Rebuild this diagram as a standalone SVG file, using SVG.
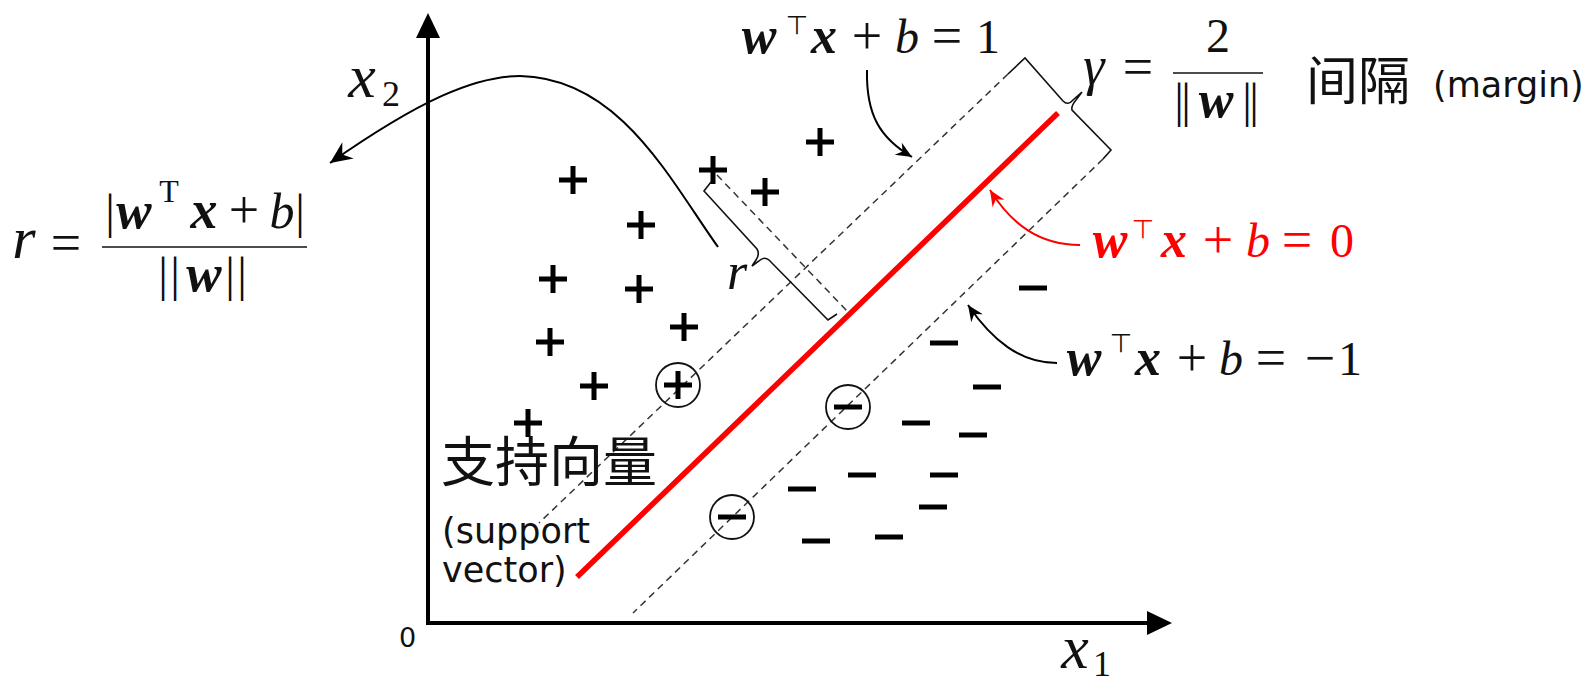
<svg xmlns="http://www.w3.org/2000/svg" width="1589" height="682" viewBox="0 0 1589 682">
<style>
.m{font-family:"Liberation Serif","DejaVu Serif",serif;fill:#111}
.mi{font-style:italic}
.mb{font-style:italic;font-weight:bold}
.top{font-family:"DejaVu Sans",sans-serif;font-style:normal;font-weight:normal}
.sans{font-family:"DejaVu Sans","Noto Sans CJK SC",sans-serif;fill:#111}
.cjk{font-family:"Noto Sans CJK SC","DejaVu Sans",sans-serif;fill:#111}
.dash{fill:none;stroke:#333;stroke-width:1.5;stroke-dasharray:7 5}
.br{fill:none;stroke:#111;stroke-width:1.6;stroke-linejoin:miter}
.ax{stroke:#000;stroke-width:4}
.pt{stroke:#000;stroke-width:5;fill:none}
.sv{fill:none;stroke:#111;stroke-width:1.8}
.red{fill:#f00}
</style>
<defs>
<marker id="ah" viewBox="-17 -8 18 16" markerWidth="18" markerHeight="16" refX="0" refY="0" orient="auto" markerUnits="userSpaceOnUse"><path d="M0,0 L-16,-7 L-11,0 L-16,7 Z" fill="#000"/></marker>
<marker id="ahr" viewBox="-17 -8 18 16" markerWidth="18" markerHeight="16" refX="0" refY="0" orient="auto" markerUnits="userSpaceOnUse"><path d="M0,0 L-16,-7 L-11,0 L-16,7 Z" fill="#f00"/></marker>
<marker id="ahb" viewBox="-23 -11 24 22" markerWidth="24" markerHeight="22" refX="0" refY="0" orient="auto" markerUnits="userSpaceOnUse"><path d="M0,0 L-22,-10 L-15,0 L-22,10 Z" fill="#000"/></marker>
<path id="plus" d="M-14,0H14M0,-14V14"/>
<path id="minus" d="M-14,0H14"/>
</defs>

<g id="axes">
<line class="ax" x1="428" y1="625" x2="428" y2="36"/>
<polygon points="428,13 416,38 440,38" fill="#000"/>
<line class="ax" x1="426" y1="623" x2="1150" y2="623"/>
<polygon points="1172,623 1147,611 1147,635" fill="#000"/>
<text class="sans" x="399" y="647" font-size="27">0</text>
<text class="m" x="362" y="97" text-anchor="middle" font-size="62"><tspan class="mi">x</tspan><tspan x="391" y="106" font-size="36">2</tspan></text>
<text class="m" x="1075" y="668" text-anchor="middle" font-size="62"><tspan class="mi">x</tspan><tspan x="1102" y="676" font-size="36">1</tspan></text>
</g>

<g id="lines">
<line class="dash" x1="1008" y1="74" x2="539" y2="523"/>
<line class="dash" x1="1103" y1="159" x2="633" y2="613"/>
<line class="dash" x1="717" y1="175" x2="848" y2="312"/>
<line x1="1058" y1="113" x2="577" y2="577" stroke="#f00" stroke-width="5.5"/>
</g>

<g id="braces">
<path class="br" d="M1008,74 L1025,58 L1063,101 Q1068,106 1073,100 L1082,92 L1076,100 Q1071,106 1072,110 L1111,150 L1103,159"/>
<path class="br" d="M711,182 L704,191 L757,249 Q760,254 756,260 L752,266 L759,261 Q764,256 769,260 L828,320 L837,314"/>
</g>

<g id="positive">
<use href="#plus" class="pt" x="573" y="180"/>
<use href="#plus" class="pt" x="713" y="170"/>
<use href="#plus" class="pt" x="820" y="142"/>
<use href="#plus" class="pt" x="765" y="192"/>
<use href="#plus" class="pt" x="641" y="225"/>
<use href="#plus" class="pt" x="553" y="279"/>
<use href="#plus" class="pt" x="639" y="289"/>
<use href="#plus" class="pt" x="684" y="327"/>
<use href="#plus" class="pt" x="550" y="342"/>
<use href="#plus" class="pt" x="594" y="386"/>
<use href="#plus" class="pt" x="528" y="423"/>
</g>
<g id="negative">
<use href="#minus" class="pt" x="1033" y="288"/>
<use href="#minus" class="pt" x="944" y="343"/>
<use href="#minus" class="pt" x="987" y="387"/>
<use href="#minus" class="pt" x="916" y="423"/>
<use href="#minus" class="pt" x="973" y="435"/>
<use href="#minus" class="pt" x="862" y="475"/>
<use href="#minus" class="pt" x="944" y="475"/>
<use href="#minus" class="pt" x="802" y="489"/>
<use href="#minus" class="pt" x="933" y="507"/>
<use href="#minus" class="pt" x="816" y="541"/>
<use href="#minus" class="pt" x="889" y="537"/>
</g>
<g id="support-vectors">
<circle class="sv" cx="678" cy="385" r="22"/>
<use href="#plus" class="pt" x="678" y="385"/>
<circle class="sv" cx="848" cy="407" r="22"/>
<use href="#minus" class="pt" x="848" y="407"/>
<circle class="sv" cx="732" cy="517" r="22"/>
<use href="#minus" class="pt" x="732" y="517"/>
</g>

<g id="connectors">
<path d="M718,247 C670,180 620,78 520,76 C475,76 420,100 330,163" fill="none" stroke="#000" stroke-width="2" marker-end="url(#ahb)"/>
<path d="M867,70 C866,115 880,138 912,157" fill="none" stroke="#000" stroke-width="2" marker-end="url(#ah)"/>
<path d="M1080,245 C1040,245 1012,225 990,190" fill="none" stroke="#f00" stroke-width="2" marker-end="url(#ahr)"/>
<path d="M1057,363 C1020,363 992,340 968,305" fill="none" stroke="#000" stroke-width="2" marker-end="url(#ah)"/>
</g>

<g id="label-r-formula">
<text class="m" font-size="48" text-anchor="middle"><tspan class="mi" x="24" y="258" font-size="60">r</tspan><tspan x="66" y="261" font-size="54">=</tspan></text>
<line x1="102" y1="247" x2="307" y2="247" stroke="#111" stroke-width="1.5"/>
<text class="m" font-size="48" text-anchor="middle"><tspan x="110" y="228">|</tspan><tspan class="mb" x="134" y="228" font-size="53">w</tspan><tspan x="169" y="202" font-size="32">T</tspan><tspan class="mb" x="204" y="228" font-size="54">x</tspan><tspan x="244" y="228" font-size="54">+</tspan><tspan class="mi" x="282" y="228" font-size="50">b</tspan><tspan x="300" y="228">|</tspan></text>
<text class="m" font-size="48" text-anchor="middle"><tspan x="163" y="291">|</tspan><tspan x="175" y="291">|</tspan><tspan class="mb" x="204" y="291" font-size="53">w</tspan><tspan x="230" y="291">|</tspan><tspan x="242" y="291">|</tspan></text>
</g>

<g id="label-r">
<text class="m mi" x="737" y="289" text-anchor="middle" font-size="52">r</text>
</g>

<g id="label-plus1">
<text class="m" font-size="48" text-anchor="middle"><tspan class="mb" x="759" y="53" font-size="52">w</tspan><tspan class="top" x="797" y="34" font-size="26">⊤</tspan><tspan class="mb" x="824" y="53" font-size="52">x</tspan><tspan x="867" y="54" font-size="54">+</tspan><tspan class="mi" x="907" y="53">b</tspan><tspan x="947" y="54" font-size="54">=</tspan><tspan x="988" y="53">1</tspan></text>
</g>

<g id="label-zero">
<text class="m red" font-size="48" text-anchor="middle"><tspan class="mb" x="1110" y="257" font-size="52">w</tspan><tspan class="top" x="1143" y="238" font-size="26">⊤</tspan><tspan class="mb" x="1174" y="257" font-size="52">x</tspan><tspan x="1218" y="258" font-size="54">+</tspan><tspan class="mi" x="1258" y="257">b</tspan><tspan x="1297" y="258" font-size="54">=</tspan><tspan x="1342" y="257">0</tspan></text>
</g>

<g id="label-minus1">
<text class="m" font-size="48" text-anchor="middle"><tspan class="mb" x="1084" y="375" font-size="52">w</tspan><tspan class="top" x="1121" y="352" font-size="26">⊤</tspan><tspan class="mb" x="1148" y="375" font-size="52">x</tspan><tspan x="1192" y="376" font-size="54">+</tspan><tspan class="mi" x="1231" y="375">b</tspan><tspan x="1271" y="376" font-size="54">=</tspan><tspan x="1320" y="376" font-size="54">−</tspan><tspan x="1350" y="375">1</tspan></text>
</g>

<g id="label-gamma">
<text class="m" font-size="48" text-anchor="middle"><tspan class="mi" x="1094" y="84" font-size="54">γ</tspan><tspan x="1138" y="85" font-size="54">=</tspan><tspan x="1218" y="52">2</tspan></text>
<line x1="1173" y1="73" x2="1263" y2="73" stroke="#111" stroke-width="1.5"/>
<text class="m" font-size="48" text-anchor="middle"><tspan x="1179" y="117">|</tspan><tspan x="1186" y="117">|</tspan><tspan class="mb" x="1216" y="117" font-size="52">w</tspan><tspan x="1247" y="117">|</tspan><tspan x="1254" y="117">|</tspan></text>
<text class="cjk" x="1306" y="100" font-size="52">间隔</text>
<text class="sans" x="1433" y="97" font-size="35">(margin)</text>
</g>

<g id="label-support">
<text class="cjk" x="441" y="482" font-size="54">支持向量</text>
<text class="sans" font-size="35"><tspan x="442" y="543">(support</tspan><tspan x="442" y="582">vector)</tspan></text>
</g>
</svg>
